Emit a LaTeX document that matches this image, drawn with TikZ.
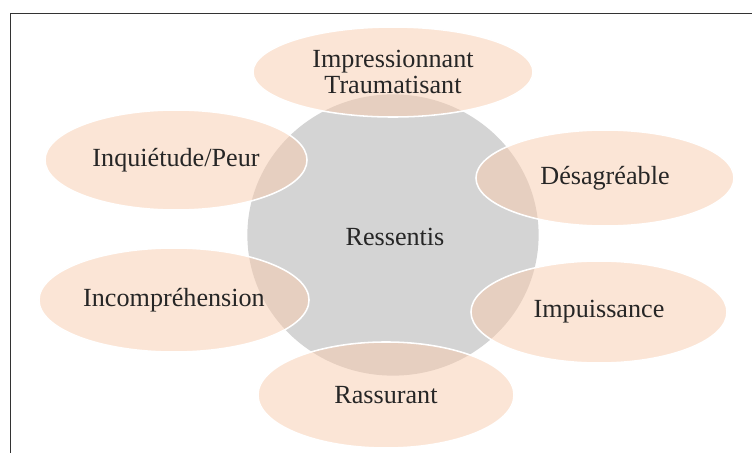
\documentclass[tikz,border=0pt]{standalone}
\usepackage{fontspec}
\setmainfont{Liberation Serif}
\usetikzlibrary{shapes.geometric}

\definecolor{peach}{HTML}{F8CBAD}
\definecolor{hubgray}{HTML}{D4D4D4}
\definecolor{ink}{HTML}{262626}

\tikzset{
  feeling/.style={ellipse, draw=white, line width=1.1pt, fill=peach, fill opacity=0.5, text opacity=1, text=ink, inner sep=0pt, align=center, font=\fontsize{18.6}{19}\selectfont},
  hub/.style={ellipse, fill=hubgray, text=ink, inner sep=0pt, font=\fontsize{18.6}{19}\selectfont}
}

\begin{document}
\begin{tikzpicture}[x=0.025cm, y=-0.025cm]
\useasboundingbox (0,0) rectangle (752,453);
\draw[black!80, line width=1pt] (10.5,453) -- (10.5,13.5) -- (752,13.5);

\node[hub, minimum width=7.28cm, minimum height=7.03cm] (ressentis) at (393,235) {};
\node[text=ink, font=\fontsize{18.6}{19}\selectfont] (ressentislabel) at (395,237) {Ressentis};

\node[feeling, minimum width=7.0cm, minimum height=2.25cm] (trauma) at (393,72) {Impressionnant\\Traumatisant};
\node[feeling, minimum width=6.55cm, minimum height=2.5cm] (peur) at (176,160) {Inquiétude/Peur};
\node[feeling, minimum width=6.45cm, minimum height=2.4cm] (desagreable) at (605,178) {Désagréable};
\node[feeling, minimum width=6.75cm, minimum height=2.6cm] (incomprehension) at (174,300) {Incompréhension};
\node[feeling, minimum width=6.4cm, minimum height=2.55cm] (impuissance) at (599,312) {Impuissance};
\node[feeling, minimum width=6.4cm, minimum height=2.65cm] (rassurant) at (386,395) {Rassurant};

\end{tikzpicture}
\end{document}
